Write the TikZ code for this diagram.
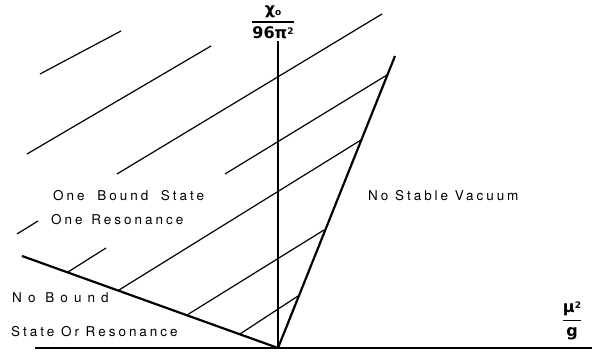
\documentclass[tikz,border=0pt]{standalone}
\usepackage{amsmath}
\usepackage{fontspec}
\newfontfamily\lblfont[LetterSpace=22]{TeX Gyre Heros}
\newfontfamily\widefont[LetterSpace=45]{TeX Gyre Heros}
\newfontfamily\axfont{DejaVu Sans}
\begin{document}
\begin{tikzpicture}[x=1pt,y=-1pt,
  axis/.style={line width=2.2pt},
  bound/.style={line width=2.2pt},
  hatch/.style={line width=1.2pt},
  lbl/.style={inner sep=0pt,anchor=west,font=\lblfont\fontsize{13.5}{15}\selectfont},
  widelbl/.style={inner sep=0pt,anchor=west,font=\widefont\fontsize{13.5}{15}\selectfont},
  axlbl/.style={inner sep=0pt,font=\axfont\bfseries\fontsize{16}{18}\selectfont}]
\useasboundingbox (0,0) rectangle (592,352);
% axes
\coordinate (O) at (278,348);
\coordinate (xl) at (35,348);
\coordinate (xr) at (592,348);
\coordinate (yt) at (278,41);
\draw[axis] (xl) -- (xr);
\draw[axis] (O) -- (yt);
% boundaries
\coordinate (Lend) at (22,256);
\coordinate (Rend) at (395,56);
\draw[bound] (Lend) -- (O);
\draw[bound] (O) -- (Rend);
% hatch lines
\coordinate (h1a) at (40,74);   \coordinate (h1b) at (121,31);
\coordinate (h2a) at (27,154);  \coordinate (h2b) at (211,46);
\coordinate (h3a) at (117,174); \coordinate (h3b) at (382,14);
\coordinate (h4a) at (225,174); \coordinate (h4b) at (387,75);
\coordinate (h5a) at (119,290); \coordinate (h5b) at (361,140);
\coordinate (h6a) at (68,272);  \coordinate (h6b) at (106,248);
\coordinate (h7a) at (187,315); \coordinate (h7b) at (324,230);
\coordinate (h8a) at (240,334); \coordinate (h8b) at (298,296);
\coordinate (h9a) at (17,234);  \coordinate (h9b) at (38,221);
\foreach \i in {1,...,9} \draw[hatch] (h\i a) -- (h\i b);
% labels
\node[lbl] (obs) at (53,196) {One\hspace{6pt} Bound\hspace{6pt} State};
\node[lbl] (ore) at (51,220) {One\hspace{2pt} Resonance};
\node[lbl] (nsv) at (368,196) {No Stable Vacuum};
\node[widelbl] (nob) at (12,298) {No Bound};
\node[lbl] (sor) at (11,332) {State Or Resonance};
\node[axlbl] (ylab) at (273,22) {$\genfrac{}{}{1.3pt}{0}{\text{χ\raisebox{-1.5pt}{\fontsize{9}{9}\selectfont o}}}{\text{96π\raisebox{4pt}{\fontsize{9}{9}\selectfont 2}}}$};
\node[axlbl] (xlab) at (572,321) {$\genfrac{}{}{1.3pt}{0}{\text{μ\raisebox{4pt}{\fontsize{9}{9}\selectfont 2}}}{\text{g}}$};
\end{tikzpicture}
\end{document}
